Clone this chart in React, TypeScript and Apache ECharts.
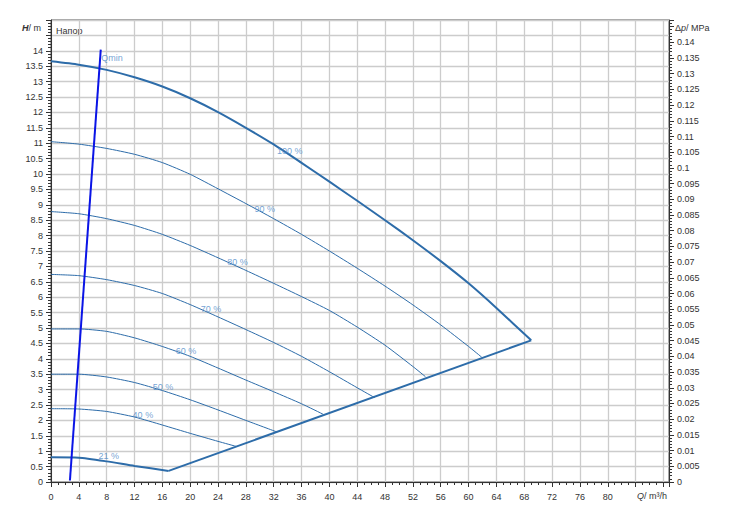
import React, { useEffect, useRef } from "react";
import * as echarts from "echarts";

// Pump performance curves: [Q m³/h, H m]
const curve100 = [[0,13.66],[4,13.55],[8,13.38],[12,13.14],[16,12.84],[20,12.46],[24,12.01],[28,11.5],[32,10.96],[36,10.36],[40,9.75],[44,9.13],[48,8.5],[52,7.85],[56,7.17],[60,6.45],[64,5.65],[69,4.6]];
const curve90 = [[0,11.05],[4,10.97],[8,10.83],[12,10.64],[16,10.37],[20,9.99],[24,9.52],[28,9.04],[32,8.55],[36,8.04],[40,7.5],[44,6.94],[48,6.36],[52,5.75],[56,5.1],[60,4.4],[61.9,4.05]];
const curve80 = [[0,8.78],[4,8.71],[8,8.55],[12,8.33],[16,8.04],[20,7.68],[24,7.28],[28,6.87],[32,6.45],[36,6.02],[40,5.57],[44,5.03],[48,4.44],[52,3.75],[53.8,3.42]];
const curve70 = [[0,6.74],[4,6.7],[8,6.57],[12,6.38],[16,6.12],[20,5.76],[24,5.36],[28,4.95],[32,4.53],[36,4.08],[40,3.58],[44,3.06],[46.5,2.74]];
const curve60 = [[0,4.97],[4,4.97],[8,4.89],[12,4.68],[16,4.4],[20,4.08],[24,3.7],[28,3.31],[32,2.93],[36,2.54],[39.1,2.2]];
const curve50 = [[0,3.5],[4,3.5],[8,3.41],[12,3.23],[16,2.97],[20,2.67],[24,2.34],[28,2.0],[32.4,1.63]];
const curve40 = [[0,2.38],[4,2.37],[8,2.29],[12,2.11],[16,1.85],[20,1.58],[24,1.32],[26.7,1.15]];
const curve21 = [[0,0.8],[4,0.79],[8,0.67],[12,0.52],[16.9,0.36]];
const limitLine = [[16.9,0.36],[69,4.6]];
const qminLine = [[2.72,0.05],[7.15,14.04]];

const curveLabels = [
  [34.3,10.75,"100 %"],[30.7,8.86,"90 %"],[26.8,7.14,"80 %"],[23.0,5.62,"70 %"],
  [19.4,4.25,"60 %"],[16.1,3.08,"50 %"],[13.2,2.18,"40 %"],[8.3,0.84,"21 %"],
];
const qminLabel = [[8.76,13.76,"Qmin"]];

const X_MAX = 88.8;
const H_MAX = 15;
const MPA_PER_M = 1 / 101.97;

const FONT = "Liberation Sans, Arial, sans-serif";
const CURVE_COLOR = "#2d6ca9";
const LABEL_COLOR = "#4f8bc9";

export default function App() {
  const ref = useRef<HTMLDivElement>(null);
  useEffect(() => {
    const chart = echarts.init(ref.current!, null, { renderer: "svg" });
    const curveSeries = (data: number[][], width: number) => ({
      type: "line",
      data,
      symbol: "none",
      smooth: 0.2,
      lineStyle: { color: CURVE_COLOR, width },
      silent: true,
      z: 3,
    });
    const labelSeries = (data: any[]) => ({
      type: "scatter",
      data,
      symbolSize: 0,
      silent: true,
      z: 5,
      label: {
        show: true,
        position: "inside",
        formatter: (p: any) => p.data[2],
        color: LABEL_COLOR,
        fontSize: 9,
        fontFamily: FONT,
      },
    });
    const tickLabel = { fontSize: 9, color: "#333", fontFamily: FONT };
    chart.setOption({
      animation: false,
      textStyle: { fontFamily: FONT },
      grid: { left: 51, right: 68, top: 20, bottom: 41, show: true, borderColor: "#444", borderWidth: 1 },
      xAxis: {
        type: "value",
        min: 0,
        max: X_MAX,
        interval: 4,
        axisLine: { show: true, onZero: false, lineStyle: { color: "#333" } },
        axisTick: { show: true, length: 5, lineStyle: { color: "#333" } },
        minorTick: { show: true, splitNumber: 4, length: 3, lineStyle: { color: "#333" } },
        splitLine: { show: true, lineStyle: { color: "#cccccc", width: 1.3 } },
        axisLabel: {
          ...tickLabel,
          margin: 10,
          formatter: (v: number) => (v <= 80 && Math.abs(v % 4) < 1e-6 ? String(v) : ""),
        },
      },
      yAxis: [
        {
          type: "value",
          min: 0,
          max: H_MAX,
          interval: 0.5,
          axisLine: { show: true, onZero: false, lineStyle: { color: "#333" } },
          axisTick: { show: true, length: 5, lineStyle: { color: "#333" } },
          minorTick: { show: true, splitNumber: 5, length: 3, lineStyle: { color: "#333" } },
          splitLine: { show: true, lineStyle: { color: "#cccccc", width: 1.3 } },
          axisLabel: {
            ...tickLabel,
            margin: 8,
            formatter: (v: number) => (v <= 14.001 ? String(+v.toFixed(1)) : ""),
          },
        },
        {
          type: "value",
          position: "right",
          min: 0,
          max: H_MAX * MPA_PER_M,
          interval: 0.005,
          axisLine: { show: true, onZero: false, lineStyle: { color: "#333" } },
          axisTick: { show: true, length: 5, lineStyle: { color: "#333" } },
          minorTick: { show: true, splitNumber: 5, length: 3, lineStyle: { color: "#333" } },
          splitLine: { show: false },
          axisLabel: {
            ...tickLabel,
            margin: 8,
            formatter: (v: number) => (v <= 0.14001 ? String(+v.toFixed(3)) : ""),
          },
        },
      ],
      series: [
        curveSeries(curve100, 2),
        curveSeries(curve90, 1),
        curveSeries(curve80, 1),
        curveSeries(curve70, 1),
        curveSeries(curve60, 1),
        curveSeries(curve50, 1),
        curveSeries(curve40, 1),
        curveSeries(curve21, 2),
        {
          type: "line",
          data: limitLine,
          symbol: "none",
          lineStyle: { color: CURVE_COLOR, width: 2 },
          silent: true,
          z: 3,
        },
        {
          type: "line",
          data: qminLine,
          symbol: "none",
          lineStyle: { color: "#0a14e6", width: 2 },
          silent: true,
          z: 4,
        },
        labelSeries(curveLabels),
        labelSeries(qminLabel),
      ],
      graphic: [
        {
          type: "text",
          left: 22,
          top: 23,
          style: {
            text: "{i|H}/ m",
            fontSize: 9,
            fontFamily: FONT,
            fill: "#333",
            rich: { i: { fontStyle: "italic", fontWeight: "bold", fontSize: 9, fontFamily: FONT, fill: "#333" } },
          },
        },
        {
          type: "text",
          left: 56,
          top: 26,
          style: { text: "Напор", fontSize: 9, fontFamily: FONT, fill: "#333" },
        },
        {
          type: "text",
          left: 675,
          top: 23,
          style: {
            text: "Δ{i|p}/ MPa",
            fontSize: 9,
            fontFamily: FONT,
            fill: "#333",
            rich: { i: { fontStyle: "italic", fontSize: 9, fontFamily: FONT, fill: "#333" } },
          },
        },
        {
          type: "text",
          left: 637,
          top: 491,
          style: {
            text: "{i|Q}/ m³/h",
            fontSize: 9,
            fontFamily: FONT,
            fill: "#333",
            rich: { i: { fontStyle: "italic", fontSize: 9, fontFamily: FONT, fill: "#333" } },
          },
        },
      ],
    });
    return () => chart.dispose();
  }, []);
  return (
    <div
      ref={ref}
      style={{ position: "absolute", left: 0, top: 0, width: 737, height: 523, background: "#fff" }}
    />
  );
}
